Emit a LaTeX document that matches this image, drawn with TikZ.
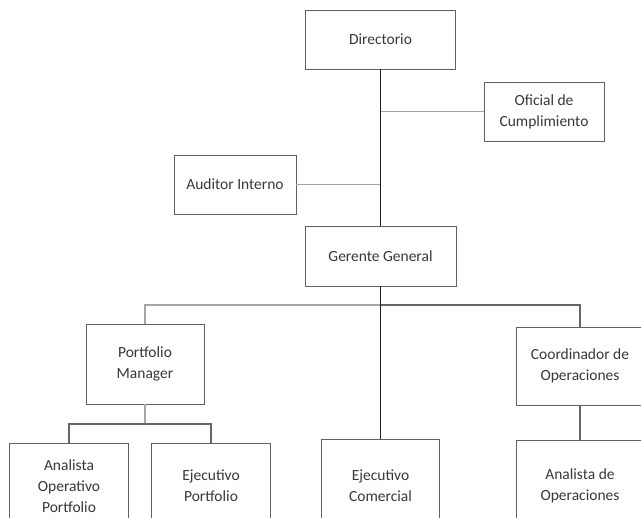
\documentclass[tikz,border=0pt]{standalone}
\usepackage{fontspec}
\setmainfont{Carlito}
\begin{document}
\begin{tikzpicture}[x=1pt,y=-1pt,
  box/.style={draw=black!62, line width=0.9pt, fill=white, align=center, inner sep=0pt,
    text=black!78, font=\fontsize{15.5}{21}\selectfont},
  trunk/.style={draw=black!88, line width=1.6pt},
  link/.style={draw=black!35, line width=1.3pt},
  dlink/.style={draw=black!60, line width=1.1pt}]
\useasboundingbox (0,0) rectangle (641,518);
\clip (0,0) rectangle (641,518);
% boxes
\node[box, minimum width=150pt, minimum height=59pt] (dir) at (380.5,39.5) {Directorio};
\node[box, minimum width=120pt, minimum height=59pt] (ofi) at (544,111.5) {Oficial de\\Cumplimiento};
\node[box, minimum width=122pt, minimum height=59pt] (aud) at (235,184.5) {Auditor Interno};
\node[box, minimum width=151pt, minimum height=60pt] (ger) at (380.5,256) {Gerente General};
\node[box, minimum width=118pt, minimum height=80pt] (pm) at (145,364) {Portfolio\\Manager};
\node[box, minimum width=128pt, minimum height=78pt] (coo) at (580,366) {Coordinador de\\Operaciones};
\node[box, minimum width=119pt, minimum height=86pt] (aop) at (69,486) {Analista\\Operativo\\Portfolio};
\node[box, minimum width=119pt, minimum height=86pt] (ejp) at (211,486) {Ejecutivo\\Portfolio};
\node[box, minimum width=118pt, minimum height=94pt] (ejc) at (380.5,486) {Ejecutivo\\Comercial};
\node[box, minimum width=128pt, minimum height=92pt] (ado) at (580,486) {Analista de\\Operaciones};
% junctions
\coordinate (j1) at (380.5,111.5);
\coordinate (j2) at (380.5,184.5);
\coordinate (jb) at (380.5,305);
\coordinate (js) at (145,424);
% connectors
\draw[link] (j1) -- (ofi.west);
\draw[link] (aud.east) -- (j2);
\draw[link] (jb) -| (pm.north);
\draw[dlink] (jb) -| (coo.north);
\draw[trunk] (dir.south) -- (ger.north);
\draw[trunk] (ger.south) -- (ejc.north);
\draw[link] (pm.south) -- (js);
\draw[dlink] (aop.north) |- (js) -| (ejp.north);
\draw[dlink] (coo.south) -- (ado.north);
\end{tikzpicture}
\end{document}
